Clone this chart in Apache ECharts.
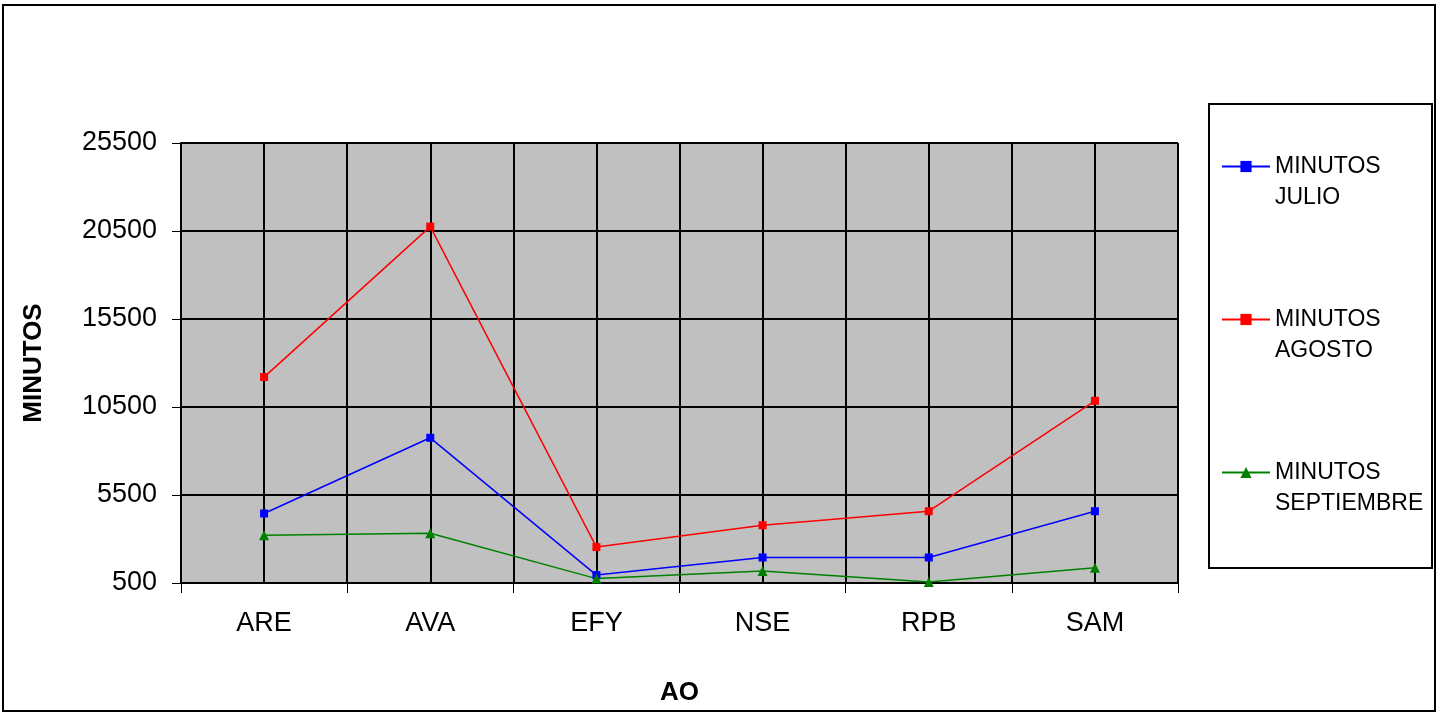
<!DOCTYPE html>
<html>
<head>
<meta charset="utf-8">
<script src="https://cdn.jsdelivr.net/npm/echarts@6/dist/echarts.min.js"></script>
<style>
html,body{margin:0;padding:0;background:#fff;}
#chart{width:1440px;height:714px;}
</style>
</head>
<body>
<div id="chart"></div>
<script>
const categories = ['ARE', 'AVA', 'EFY', 'NSE', 'RPB', 'SAM'];
const seriesNames = ['MINUTOS JULIO', 'MINUTOS AGOSTO', 'MINUTOS SEPTIEMBRE'];
const julio = [4450, 8750, 950, 1950, 1950, 4580];
const agosto = [12200, 20750, 2540, 3780, 4580, 10850];
const septiembre = [3220, 3330, 750, 1180, 560, 1370];
const yMin = 500, yMax = 25500, yStep = 5000;
const halfSlots = ['a1','a2','b1','b2','c1','c2','d1','d2','e1','e2','f1','f2'];

const FONT = "'Liberation Sans', Arial, sans-serif";
const chart = echarts.init(document.getElementById('chart'), null, {renderer: 'canvas'});

function lineSeries(name, data, color, symbol, size) {
  return {
    name: name, type: 'line', data: data,
    xAxisIndex: 0, yAxisIndex: 0,
    symbol: symbol, symbolSize: size,
    lineStyle: {color: color, width: 1.5},
    itemStyle: {color: color},
    emphasis: {disabled: true},
    animation: false
  };
}

chart.setOption({
  animation: false,
  textStyle: {fontFamily: FONT},
  graphic: [
    {type: 'rect', shape: {x: 3, y: 5, width: 1432, height: 706}, style: {fill: 'none', stroke: '#000', lineWidth: 2}, z: 100},
    {type: 'rect', shape: {x: 1209, y: 104, width: 223, height: 464}, style: {fill: '#fff', stroke: '#000', lineWidth: 2}, z: 0}
  ],
  grid: {left: 181, right: 262, top: 143, bottom: 131, show: true, backgroundColor: '#c0c0c0', borderColor: '#808080', borderWidth: 1},
  legend: {
    orient: 'vertical', left: 1221, top: 120, padding: 0, itemGap: 60,
    itemWidth: 48, itemHeight: 14,
    data: seriesNames,
    formatter: n => '\n' + n.replace(' ', '\n'),
    textStyle: {fontFamily: FONT, fontSize: 23, lineHeight: 31, color: '#000'},
    z: 5
  },
  xAxis: [
    {
      type: 'category', data: categories, boundaryGap: true, position: 'bottom',
      axisLine: {lineStyle: {color: '#000', width: 2}},
      axisTick: {show: true, length: 10, lineStyle: {color: '#000', width: 1}},
      axisLabel: {color: '#000', fontSize: 27, margin: 27, fontFamily: FONT},
      splitLine: {show: false},
      name: 'AO', nameLocation: 'middle', nameGap: 97,
      nameTextStyle: {fontSize: 26, fontWeight: 'bold', color: '#000', fontFamily: FONT},
      z: 3
    },
    {
      type: 'category', data: halfSlots, boundaryGap: true, position: 'bottom',
      axisLine: {show: false}, axisTick: {show: false}, axisLabel: {show: false},
      splitLine: {show: true, interval: 0, lineStyle: {color: '#000', width: 2}}
    }
  ],
  yAxis: {
    type: 'value', min: yMin, max: yMax, interval: yStep,
    axisLine: {show: true, lineStyle: {color: '#000', width: 2}},
    axisTick: {show: true, length: 9, lineStyle: {color: '#000', width: 1}},
    axisLabel: {color: '#000', fontSize: 27, margin: 24, fontFamily: FONT, formatter: v => String(v)},
    splitLine: {show: true, lineStyle: {color: '#000', width: 2}},
    name: 'MINUTOS', nameLocation: 'middle', nameGap: 134,
    nameTextStyle: {fontSize: 26, fontWeight: 'bold', color: '#000', fontFamily: FONT},
    z: 3
  },
  series: [
    lineSeries(seriesNames[0], julio, '#0000ff', 'rect', 8),
    lineSeries(seriesNames[1], agosto, '#ff0000', 'rect', 8),
    lineSeries(seriesNames[2], septiembre, '#008000', 'triangle', 10)
  ]
});
</script>
</body>
</html>
